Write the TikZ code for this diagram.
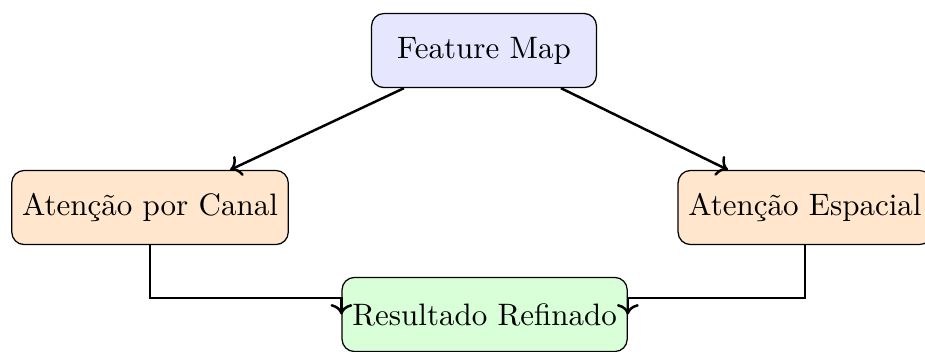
\documentclass[tikz,border=0pt]{standalone}
\usepackage{xcolor}
\usepackage{tikz}
\usetikzlibrary{arrows.meta,positioning}
\definecolor{CBLavender}{HTML}{E6E6FF}
\definecolor{CBPeach}{HTML}{FFE6CC}
\definecolor{CBMint}{HTML}{D9FFD9}
\definecolor{CBInk}{HTML}{000000}

\begin{document}
\begin{tikzpicture}[x=1cm,y=1cm,
    block/.style={draw=CBInk,rounded corners=4pt,minimum height=0.84cm,
      inner sep=0.3333em},
    flow/.style={->,thick,CBInk}]
  \useasboundingbox (0,0) rectangle (10.488,3.991);

  % Input feature map on top, the two attention branches below it.
  \node[block,fill=CBLavender,minimum width=2.55cm] (fm) at (5.488,3.418)
    {Feature Map};
  \node[block,fill=CBPeach] (canal) at (1.701,1.638)
    {Aten\c{c}\~ao por Canal};
  \node[block,fill=CBPeach] (espacial) at (9.127,1.638)
    {Aten\c{c}\~ao Espacial};

  % Merged output.
  \node[block,fill=CBMint] (refinado) at (5.495,0.425)
    {Resultado Refinado};

  \draw[flow] (fm) -- (canal);
  \draw[flow] (fm) -- (espacial);
  \draw[flow] (canal.south) -- ++(0,-0.6) -| (refinado.west);
  \draw[flow] (espacial.south) -- ++(0,-0.6) -| (refinado.east);
\end{tikzpicture}
\end{document}
